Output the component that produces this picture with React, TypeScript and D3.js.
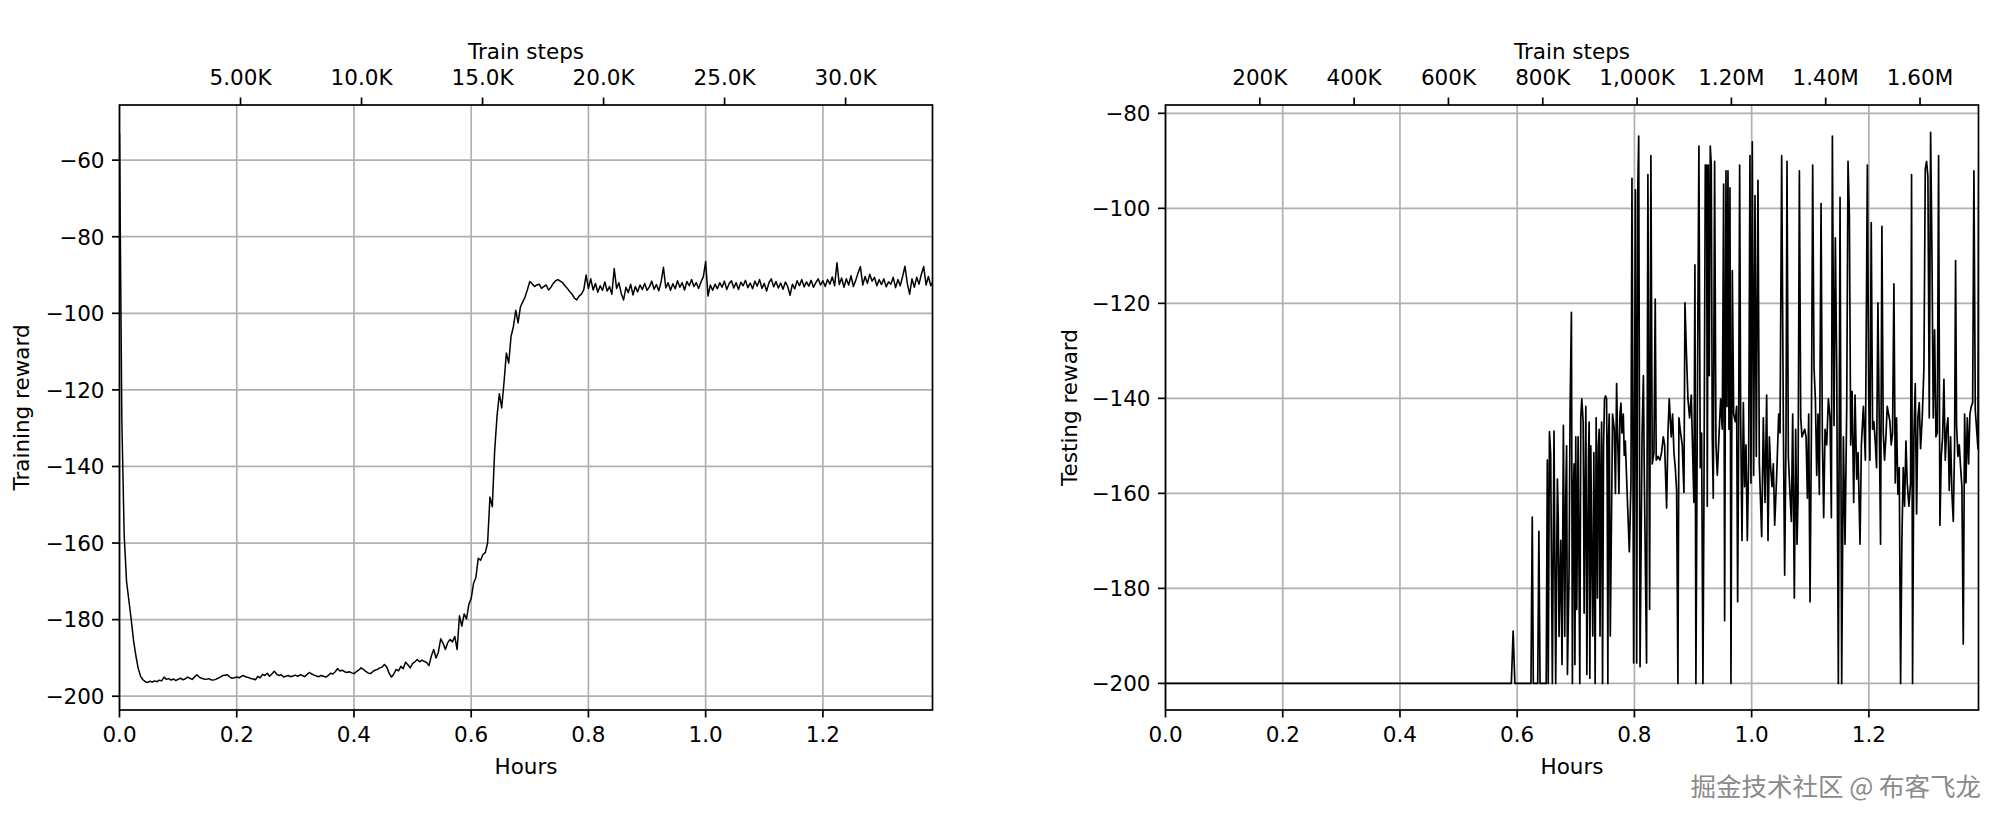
import React from 'react';
import * as d3 from 'd3';

// ---------------- DATA ----------------
// Training reward, sampled every TRAIN_STEP_H hours starting at 0
const TRAIN_STEP_H = 0.004;
const trainReward = [
  -53, -128, -158, -170, -175, -180, -185.5, -189.5, -192.8, -194.8,
  -195.7, -196.2, -196.4, -196.1, -196.3, -196.0, -196.2, -195.8, -196.0, -195.0,
  -195.6, -195.4, -195.8, -195.5, -195.9, -195.6, -195.3, -195.7, -195.5, -195.0,
  -195.3, -195.6, -195.0, -194.4, -195.0, -195.3, -195.5, -195.6, -195.4, -195.7,
  -195.8, -195.6, -195.3, -195.0, -194.6, -194.5, -194.4, -195.0, -195.3, -195.2,
  -195.0, -195.2, -194.8, -194.6, -195.0, -195.1, -195.4, -195.5, -195.7, -194.8,
  -195.2, -194.3, -194.6, -194.0, -194.8, -194.2, -193.5, -194.2, -194.6, -194.4,
  -195.0, -194.8, -194.6, -194.9, -194.7, -194.5, -194.8, -194.4, -194.6, -194.9,
  -194.3, -193.8, -194.2, -194.5, -194.7, -194.9, -194.6, -194.8, -195.0, -194.6,
  -194.0, -194.2, -193.6, -192.8, -193.4, -193.2, -193.6, -193.8, -193.6, -193.9,
  -194.1, -193.6, -193.2, -192.6, -193.0, -193.5, -193.9, -194.1, -193.6, -193.2,
  -193.0, -192.6, -192.4, -191.7, -192.4, -194.0, -195.0, -194.2, -193.0, -193.4,
  -192.2, -192.8, -191.1, -191.8, -192.6, -191.4, -191.0, -190.4, -191.0, -190.6,
  -190.9, -191.2, -192.0, -189.5, -187.8, -190.0, -188.5, -185.0, -186.2, -187.8,
  -186.0, -185.2, -185.8, -184.4, -187.8, -179.0, -181.7, -178.5, -179.8, -176.0,
  -174.5, -170.5, -169.0, -164.0, -164.5, -163.0, -162.5, -160.0, -148.0, -150.5,
  -136.0, -127.0, -121.0, -124.7, -118.0, -110.4, -113.0, -106.0, -103.5, -99.2,
  -102.5, -98.3, -97.0, -95.7, -93.8, -91.7, -92.3, -93.0, -92.6, -92.4,
  -93.5, -93.0, -92.6, -93.9, -93.2, -92.2, -91.5, -91.2, -91.6, -92.0,
  -92.8, -93.5, -94.3, -95.0, -96.0, -96.5, -95.5, -95.0, -93.9, -90.0,
  -93.5, -91.0, -93.9, -92.2, -94.5, -92.8, -94.0, -91.8, -94.2, -93.0,
  -95.0, -88.3, -93.5, -92.0, -94.8, -96.5, -93.2, -94.6, -92.4, -95.2,
  -93.0, -94.4, -92.6, -93.8, -92.2, -94.0, -93.1, -91.6, -93.7, -92.5,
  -94.1, -91.8, -88.0, -93.4, -92.0, -94.0, -92.3, -93.6, -91.5, -93.2,
  -92.0, -93.9, -91.7, -92.8, -91.2, -93.0, -92.0, -93.5, -91.8, -90.5,
  -86.5, -95.5, -92.6, -94.0, -92.4, -93.6, -92.0, -93.2, -91.6, -93.8,
  -92.3, -91.5, -93.4, -92.0, -93.8, -91.9, -92.8, -91.4, -93.3, -92.1,
  -93.6, -91.6, -92.9, -91.2, -93.5, -92.2, -94.2, -92.0, -91.0, -93.1,
  -91.7, -93.4, -92.1, -93.7, -91.8, -93.0, -95.3, -92.4, -93.6, -91.5,
  -92.8, -91.2, -93.1, -91.8, -92.9, -91.4, -93.2, -92.0, -91.0, -92.6,
  -91.5, -93.0, -91.2, -92.4, -90.5, -92.8, -86.8, -92.5, -90.8, -93.2,
  -91.0, -92.6, -90.2, -93.0, -91.4, -89.5, -87.8, -92.6, -90.4, -92.2,
  -89.8, -91.6, -90.6, -92.8, -91.2, -92.5, -91.0, -93.1, -91.8, -92.4,
  -90.6, -93.3, -91.2, -92.8, -90.4, -87.7, -92.2, -95.0, -91.0, -93.2,
  -90.6, -92.4, -89.8, -87.8, -92.6, -90.4, -92.8, -91.6,
];

// Testing reward (hours, reward)
const testHours = [
  0, 0.59, 0.5931, 0.596, 0.6235, 0.6257, 0.6275, 0.635, 0.637, 0.639,
  0.6495, 0.6514, 0.653, 0.655, 0.6571, 0.66, 0.6628, 0.6657, 0.6686, 0.67,
  0.6714, 0.6743, 0.6765, 0.6788, 0.6811, 0.6828, 0.6843, 0.6857, 0.6885, 0.6902,
  0.6925, 0.6942, 0.6956, 0.6971, 0.6985, 0.6999, 0.7016, 0.7039, 0.7054, 0.7068,
  0.7085, 0.7102, 0.7125, 0.7133, 0.7142, 0.7171, 0.718, 0.7188, 0.7216, 0.7228,
  0.7239, 0.7256, 0.7273, 0.729, 0.7308, 0.7319, 0.733, 0.7347, 0.7358, 0.737,
  0.7385, 0.7399, 0.7413, 0.7427, 0.744, 0.7456, 0.7473, 0.749, 0.7507, 0.7525,
  0.7536, 0.7547, 0.7558, 0.757, 0.7588, 0.7605, 0.7627, 0.7656, 0.7676, 0.7696,
  0.7708, 0.7719, 0.7736, 0.7753, 0.777, 0.7787, 0.781, 0.7827, 0.7844, 0.7884,
  0.7913, 0.7941, 0.7958, 0.7987, 0.8016, 0.8039, 0.8056, 0.8073, 0.8096, 0.813,
  0.8153, 0.817,
  0.8207, 0.823, 0.8259, 0.8281, 0.8304, 0.8333, 0.8355, 0.8372, 0.8401, 0.8435,
  0.8463, 0.8492, 0.8515, 0.8549, 0.8572, 0.8594, 0.8628, 0.8651, 0.8674, 0.8697,
  0.872, 0.8742, 0.8759, 0.8788, 0.8816, 0.8845, 0.8862, 0.8885, 0.8913, 0.8941,
  0.897, 0.8998, 0.9015, 0.9032, 0.9049, 0.9072, 0.91, 0.9123, 0.9146, 0.9169,
  0.9186, 0.9209, 0.9232, 0.9243, 0.926, 0.9277, 0.9294, 0.9311, 0.9328, 0.9345,
  0.9368, 0.9391, 0.9414, 0.9442, 0.9471, 0.9499, 0.9522, 0.9539, 0.9562, 0.9579,
  0.9596, 0.9613, 0.963, 0.9647, 0.967, 0.9693, 0.9721, 0.9744, 0.9761, 0.9778,
  0.9795, 0.9812, 0.9835, 0.9858, 0.988, 0.9903, 0.9926, 0.9949, 0.9971, 0.9988,
  1.0011, 1.0034, 1.0057, 1.0079, 1.0108, 1.0131,
  1.0171, 1.0199, 1.0228, 1.0256, 1.0279, 1.0302, 1.0324, 1.0347, 1.037, 1.0393,
  1.0427, 1.0461, 1.0484, 1.0512, 1.0541, 1.0563, 1.0586, 1.0603, 1.0626, 1.0654,
  1.0677, 1.07, 1.0728, 1.0751, 1.0774, 1.0791, 1.0814, 1.0837, 1.0859, 1.0882,
  1.0905, 1.0928, 1.0951, 1.0973, 1.0996, 1.1019, 1.1041, 1.1064, 1.1087, 1.111,
  1.1132, 1.1155, 1.1184, 1.1206, 1.1229, 1.1252, 1.128, 1.1309, 1.1337, 1.136,
  1.1377, 1.1405, 1.1428, 1.1451, 1.1479, 1.1508, 1.1536, 1.1565, 1.1593, 1.1622,
  1.1644, 1.1667, 1.169, 1.1713, 1.1741, 1.1764, 1.1792, 1.1815, 1.1849, 1.1872,
  1.1906, 1.194, 1.1974, 1.1997,
  1.2017, 1.204, 1.2063, 1.2085, 1.2108, 1.2131, 1.2154, 1.2176, 1.2199, 1.2222,
  1.2245, 1.2267, 1.229, 1.2313, 1.2336, 1.2359, 1.2381, 1.2404, 1.2427, 1.245,
  1.2472, 1.2495, 1.2518, 1.2541, 1.2563, 1.2586, 1.2609, 1.2632, 1.2654, 1.2683,
  1.2711, 1.2728, 1.2745, 1.2768, 1.2791, 1.2814, 1.2836, 1.2859, 1.2882, 1.291,
  1.2939, 1.2962, 1.2984, 1.3007, 1.303, 1.3053, 1.3076, 1.3098, 1.3121, 1.3144,
  1.3167, 1.3189, 1.3212, 1.3235, 1.3258, 1.328, 1.3303, 1.3326, 1.3349, 1.3371,
  1.3394, 1.3417, 1.344, 1.3462, 1.3479, 1.3496, 1.3519, 1.3542, 1.3565, 1.3587,
  1.361, 1.3633, 1.3656, 1.3679, 1.3701, 1.3724, 1.3747, 1.377, 1.3792, 1.3815,
  1.3838, 1.3861, 1.3875,
];
const testReward = [
  -200, -200, -189, -200, -200, -165, -200, -200, -168, -200,
  -200, -153.0, -200, -147.0, -151.8, -200, -146.9, -200, -157.0, -165.0,
  -190.1, -169.9, -196.0, -145.7, -190.1, -161.0, -150.0, -198.1, -176.4, -142.9,
  -121.9, -200, -160.0, -153.8, -196.0, -148.1, -184.4, -148.1, -175.0, -200,
  -144.1, -140.1, -144.9, -160.0, -185.2, -141.7, -170.0, -198.1, -152.2, -145.0,
  -198.9, -150.0, -174.0, -190.0, -151.4, -175.0, -200, -144.1, -160.0, -182.0,
  -150.0, -146.5, -190.0, -157.8, -145.0, -200, -150.0, -140.1, -139.5, -140.1,
  -160.0, -200, -148.0, -143.3, -190.0, -169.9, -143.3, -146.5, -160.0, -136.9,
  -145.0, -150.6, -160.0, -143.3, -141.0, -147.3, -143.3, -152.0, -149.0, -162.7,
  -172.3, -157.8, -93.7, -195.7, -96.1, -195.7, -96.9, -84.8, -196.5, -148.1,
  -135.2, -157.8,
  -195.7, -92.9, -184.4, -88.9, -153.8, -151.4, -119.1, -153.0, -152.2, -153.0,
  -151.4, -148.1, -149.8, -163.1, -147.3, -140.1, -148.1, -143.3, -151.4, -154.6,
  -159.4, -200, -144.1, -147.3, -149.8, -159.8, -119.9, -129.6, -140.1, -144.1,
  -139.3, -153.8, -161.9, -111.9, -200, -145.7, -86.9, -154.6, -147.3, -200,
  -161.0, -90.9, -90.9, -162.7, -90.9, -135.2, -86.9, -90.9, -148.1, -161.0,
  -90.1, -149.8, -156.2, -148.1, -140.1, -146.5, -94.9, -186.8, -92.1, -141.7,
  -92.1, -146.5, -95.7, -200, -113.1, -143.3, -144.9, -141.7, -182.8, -148.1,
  -90.9, -143.3, -169.9, -140.9, -158.6, -149.8, -169.9, -153.0, -88.9, -157.8,
  -86.0, -156.2, -97.3, -152.2, -94.1, -153.8,
  -169.1, -144.1, -161.9, -139.3, -169.9, -148.1, -154.6, -158.6, -153.8, -166.7,
  -156.2, -143.3, -147.3, -88.9, -145.7, -177.2, -148.1, -90.1, -152.2, -160.2,
  -165.9, -143.3, -182.0, -146.5, -170.7, -161.0, -92.1, -144.1, -148.1, -147.3,
  -146.5, -148.1, -161.0, -143.3, -182.8, -147.3, -90.9, -133.6, -140.1, -156.2,
  -143.3, -160.2, -99.0, -148.1, -165.1, -146.5, -149.8, -140.1, -144.1, -165.1,
  -84.8, -145.7, -106.2, -133.6, -200, -97.7, -200, -148.1, -170.7, -141.7,
  -90.1, -101.4, -149.8, -138.5, -161.9, -139.3, -157.0, -151.4, -170.7, -149.8,
  -141.7, -153.0, -90.9, -139.3,
  -153.0, -103.0, -146.5, -144.9, -149.0, -154.6, -119.9, -144.1, -170.7, -103.8,
  -147.3, -153.0, -148.1, -141.7, -143.3, -144.9, -149.8, -147.3, -115.9, -157.8,
  -144.1, -160.2, -154.6, -200, -169.9, -154.6, -162.7, -149.0, -157.8, -162.7,
  -157.8, -92.9, -200, -148.1, -136.9, -164.3, -144.1, -140.9, -150.6, -144.1,
  -133.6, -91.7, -90.1, -93.3, -144.1, -84.0, -109.4, -144.1, -125.6, -148.1,
  -147.3, -88.9, -166.7, -152.2, -148.1, -136.0, -153.0, -146.5, -144.1, -159.4,
  -148.1, -160.2, -165.9, -149.8, -111.0, -145.7, -152.2, -149.8, -154.6, -158.6,
  -191.7, -143.3, -157.8, -144.1, -153.8, -143.3, -141.7, -140.9, -92.1, -142.5,
  -146.5, -150.6, -88.1,
];

// Axes / ticks
const HOURS_MAX = 1.387;
const hourTicks = [0, 0.2, 0.4, 0.6, 0.8, 1.0, 1.2];
const trainYDomain = [-203.6, -45.6];
const trainYTicks = [-60, -80, -100, -120, -140, -160, -180, -200];
const testYDomain = [-205.6, -78.25];
const testYTicks = [-80, -100, -120, -140, -160, -180, -200];
const TRAIN_STEPS_MAX = 33590;
const trainStepTicks = [5000, 10000, 15000, 20000, 25000, 30000];
const trainStepLabels = ['5.00K', '10.0K', '15.0K', '20.0K', '25.0K', '30.0K'];
const TEST_STEPS_MAX = 1724000;
const testStepTicks = [200000, 400000, 600000, 800000, 1000000, 1200000, 1400000, 1600000];
const testStepLabels = ['200K', '400K', '600K', '800K', '1,000K', '1.20M', '1.40M', '1.60M'];

const FONT = '"DejaVu Sans", sans-serif';
const FS = 21.5;
const TOP = 105;
const BOTTOM = 710;
const AX_W = 813;
const TICK = 7.5;
const LW = 1.7;
const GRID = '#b0b0b0';

const minus = (v: number) => (v < 0 ? '\u2212' + Math.abs(v) : String(v));

type PanelProps = {
  id: string;
  left: number;
  xs: number[];
  ys: number[];
  yDomain: number[];
  yTicks: number[];
  stepMax: number;
  stepTicks: number[];
  stepLabels: string[];
  yLabel: string;
  yLabelX: number;
  lineWidth: number;
};

function Panel(p: PanelProps) {
  const x = d3.scaleLinear().domain([0, HOURS_MAX]).range([p.left, p.left + AX_W]);
  const y = d3.scaleLinear().domain(p.yDomain).range([BOTTOM, TOP]);
  const xTop = d3.scaleLinear().domain([0, p.stepMax]).range([p.left, p.left + AX_W]);
  const pts: [number, number][] = p.xs.map((h, i) => [h, p.ys[i]]);
  const line = d3
    .line<[number, number]>()
    .x((d) => x(d[0]))
    .y((d) => y(d[1]));
  const cx = p.left + AX_W / 2;
  const cy = (TOP + BOTTOM) / 2;
  return (
    <g>
      <defs>
        <clipPath id={p.id}>
          <rect x={p.left} y={TOP} width={AX_W} height={BOTTOM - TOP} />
        </clipPath>
      </defs>
      {hourTicks.map((t) => (
        <line key={'gx' + t} x1={x(t)} x2={x(t)} y1={TOP} y2={BOTTOM} stroke={GRID} strokeWidth={LW} />
      ))}
      {p.yTicks.map((t) => (
        <line key={'gy' + t} x1={p.left} x2={p.left + AX_W} y1={y(t)} y2={y(t)} stroke={GRID} strokeWidth={LW} />
      ))}
      <path
        d={line(pts) || ''}
        fill="none"
        stroke="#000"
        strokeWidth={p.lineWidth}
        strokeLinejoin="round"
        clipPath={`url(#${p.id})`}
      />
      <rect x={p.left} y={TOP} width={AX_W} height={BOTTOM - TOP} fill="none" stroke="#000" strokeWidth={LW} />
      {hourTicks.map((t) => (
        <g key={'bx' + t}>
          <line x1={x(t)} x2={x(t)} y1={BOTTOM} y2={BOTTOM + TICK} stroke="#000" strokeWidth={LW} />
          <text x={x(t)} y={742} textAnchor="middle" fontFamily={FONT} fontSize={FS}>
            {t.toFixed(1)}
          </text>
        </g>
      ))}
      {p.stepTicks.map((t, i) => (
        <g key={'tx' + t}>
          <line x1={xTop(t)} x2={xTop(t)} y1={TOP} y2={TOP - TICK} stroke="#000" strokeWidth={LW} />
          <text x={xTop(t)} y={85} textAnchor="middle" fontFamily={FONT} fontSize={FS}>
            {p.stepLabels[i]}
          </text>
        </g>
      ))}
      {p.yTicks.map((t) => (
        <g key={'ly' + t}>
          <line x1={p.left - TICK} x2={p.left} y1={y(t)} y2={y(t)} stroke="#000" strokeWidth={LW} />
          <text x={p.left - 15} y={y(t) + 7.8} textAnchor="end" fontFamily={FONT} fontSize={FS}>
            {minus(t)}
          </text>
        </g>
      ))}
      <text x={cx} y={59} textAnchor="middle" fontFamily={FONT} fontSize={FS}>
        Train steps
      </text>
      <text x={cx} y={774} textAnchor="middle" fontFamily={FONT} fontSize={FS}>
        Hours
      </text>
      <text
        transform={`translate(${p.yLabelX},${cy}) rotate(-90)`}
        textAnchor="middle"
        fontFamily={FONT}
        fontSize={FS}
      >
        {p.yLabel}
      </text>
    </g>
  );
}

export default function App() {
  const trainHours = trainReward.map((_, i) => i * TRAIN_STEP_H);
  return (
    <svg
      width={2000}
      height={823}
      viewBox="0 0 2000 823"
      style={{ position: 'fixed', left: 0, top: 0, background: '#fff' }}
    >
      <rect x={0} y={0} width={2000} height={823} fill="#fff" />
      <Panel
        id="clipTrain"
        left={119.5}
        xs={trainHours}
        ys={trainReward}
        yDomain={trainYDomain}
        yTicks={trainYTicks}
        stepMax={TRAIN_STEPS_MAX}
        stepTicks={trainStepTicks}
        stepLabels={trainStepLabels}
        yLabel="Training reward"
        yLabelX={28.5}
        lineWidth={1.5}
      />
      <Panel
        id="clipTest"
        left={1165.5}
        xs={testHours}
        ys={testReward}
        yDomain={testYDomain}
        yTicks={testYTicks}
        stepMax={TEST_STEPS_MAX}
        stepTicks={testStepTicks}
        stepLabels={testStepLabels}
        yLabel="Testing reward"
        yLabelX={1077}
        lineWidth={1.7}
      />
      <text
        x={1981}
        y={796}
        textAnchor="end"
        fontFamily='"Noto Sans CJK SC", sans-serif'
        fontSize={25.5}
        fill="#8a8a8a"
      >
        掘金技术社区 @ 布客飞龙
      </text>
    </svg>
  );
}
